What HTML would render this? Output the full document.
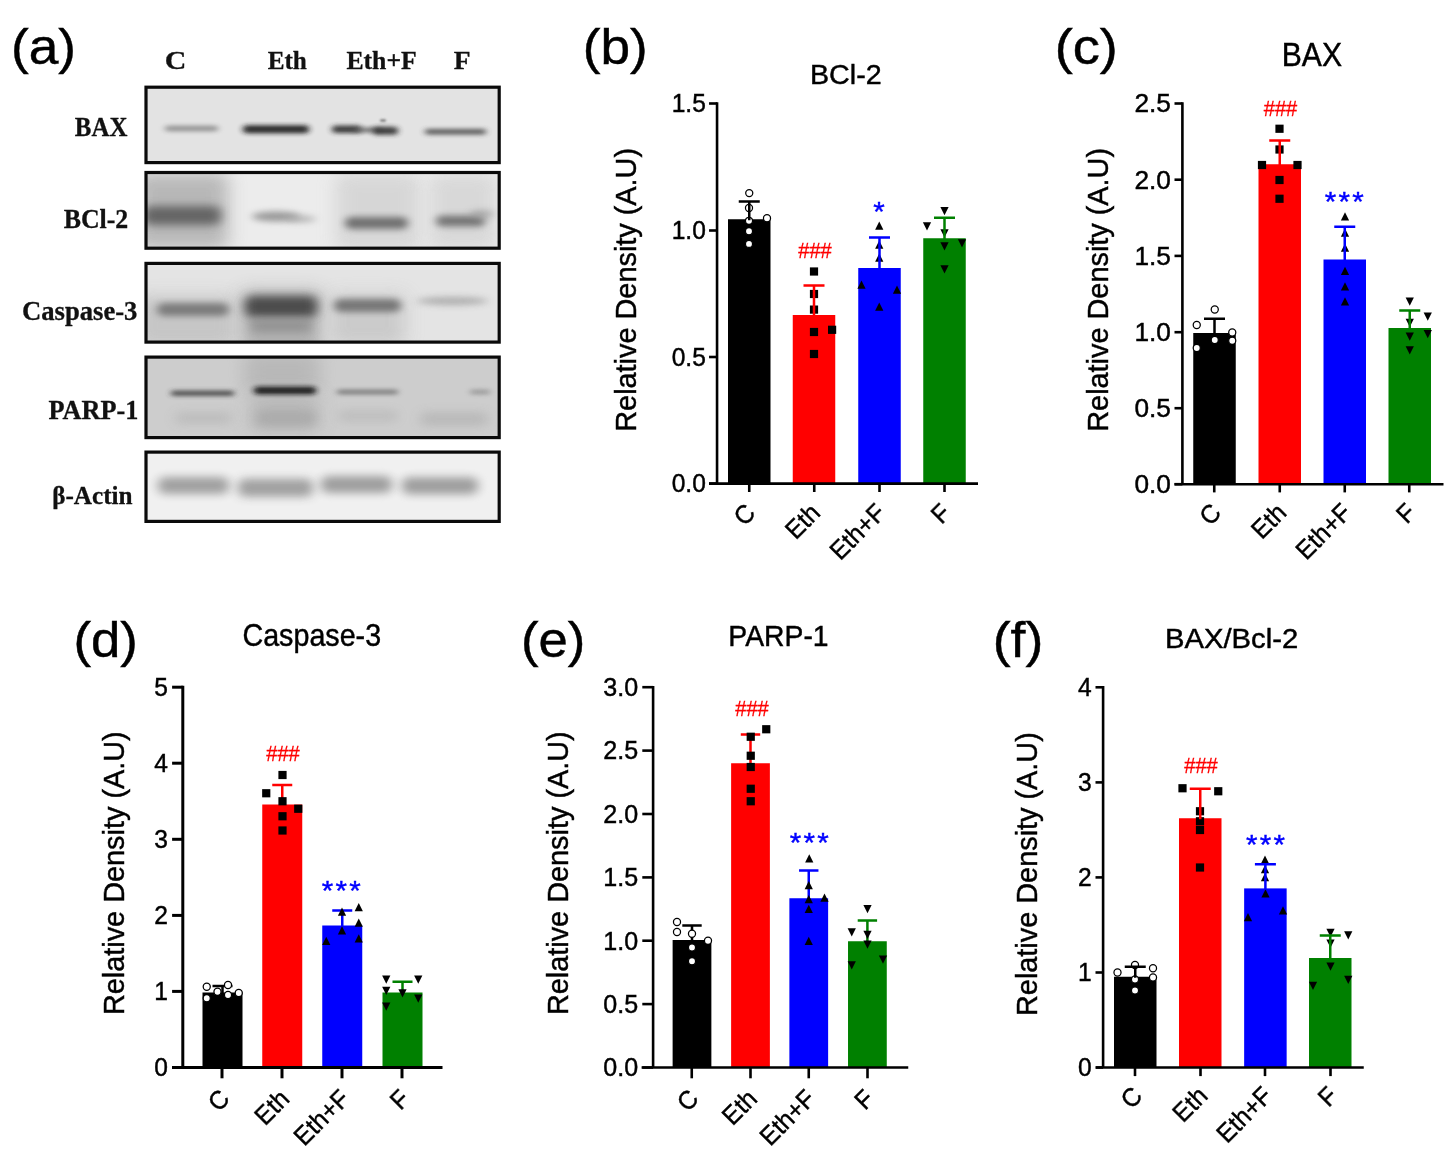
<!DOCTYPE html>
<html lang="en"><head><meta charset="utf-8"><title>Figure</title>
<style>
html,body{margin:0;padding:0;background:#fff;}
svg{display:block}
.ss{font-family:'Liberation Sans',Arial,sans-serif;}
.sf{font-family:'Liberation Serif','Times New Roman',serif;}
</style></head><body>
<svg width="1455" height="1169" viewBox="0 0 1455 1169">
<rect width="1455" height="1169" fill="#fff"/>
<defs>
<filter id="b1" filterUnits="userSpaceOnUse" x="100" y="60" width="440" height="490"><feGaussianBlur stdDeviation="1"/></filter>
<filter id="b3" filterUnits="userSpaceOnUse" x="100" y="60" width="440" height="490"><feGaussianBlur stdDeviation="3 1.9"/></filter>
<filter id="b2" filterUnits="userSpaceOnUse" x="100" y="60" width="440" height="490"><feGaussianBlur stdDeviation="2.6 1.3"/></filter>
<filter id="b4" filterUnits="userSpaceOnUse" x="100" y="60" width="440" height="490"><feGaussianBlur stdDeviation="4.5 3.2"/></filter>
<filter id="b5" filterUnits="userSpaceOnUse" x="100" y="60" width="440" height="490"><feGaussianBlur stdDeviation="5.5 4.5"/></filter>
<filter id="b7" filterUnits="userSpaceOnUse" x="100" y="60" width="440" height="490"><feGaussianBlur stdDeviation="9 8"/></filter>
</defs>
<clipPath id="cp0"><rect x="146" y="87.2" width="353.2" height="75.4"/></clipPath>
<rect x="146" y="87.2" width="353.2" height="75.4" fill="#e3e3e3"/>
<g clip-path="url(#cp0)">
<rect x="165" y="125.85" width="53" height="5.5" rx="2.75" fill="#8a8a8a" opacity="0.9" filter="url(#b3)"/>
<rect x="243" y="125.3" width="66" height="8" rx="4" fill="#1c1c1c" opacity="0.93" filter="url(#b3)"/>
<rect x="332" y="125.55" width="29" height="7.5" rx="3.75" fill="#2c2c2c" opacity="0.9" filter="url(#b3)"/>
<rect x="354" y="127.85" width="27" height="4.5" rx="2.25" fill="#5a5a5a" opacity="0.85" filter="url(#b3)"/>
<rect x="373" y="126.8" width="25" height="8" rx="4" fill="#2e2e2e" opacity="0.9" filter="url(#b3)"/>
<rect x="380" y="119.5" width="6" height="2" rx="1" fill="#444" opacity="0.8" filter="url(#b1)"/>
<rect x="425" y="129.05" width="61" height="5.5" rx="2.75" fill="#484848" opacity="0.88" filter="url(#b3)"/>
</g>
<rect x="146" y="87.2" width="353.2" height="75.4" fill="none" stroke="#0a0a0a" stroke-width="3.2"/>
<clipPath id="cp1"><rect x="146" y="172.5" width="353.2" height="75.7"/></clipPath>
<rect x="146" y="172.5" width="353.2" height="75.7" fill="#ececec"/>
<g clip-path="url(#cp1)">
<rect x="136" y="173" width="92" height="76" rx="7" fill="#b2b2b2" opacity="0.9" filter="url(#b7)"/>
<rect x="336" y="174" width="84" height="76" rx="7" fill="#d4d4d4" opacity="0.9" filter="url(#b7)"/>
<rect x="430" y="174" width="66" height="76" rx="7" fill="#d6d6d6" opacity="0.9" filter="url(#b7)"/>
<rect x="143" y="206" width="78" height="19" rx="7" fill="#5e5e5e" opacity="0.92" filter="url(#b5)"/>
<ellipse cx="276" cy="216.5" rx="24" ry="5" fill="#8e8e8e" opacity="0.9" filter="url(#b4)"/>
<ellipse cx="300.5" cy="219" rx="15.5" ry="3.25" fill="#a6a6a6" opacity="0.8" filter="url(#b4)"/>
<rect x="345" y="217" width="63" height="12" rx="6" fill="#6a6a6a" opacity="0.95" filter="url(#b4)"/>
<rect x="436" y="215.5" width="49" height="11" rx="5.5" fill="#707070" opacity="0.95" filter="url(#b4)"/>
<ellipse cx="482" cy="214" rx="12" ry="4" fill="#9a9a9a" opacity="0.7" filter="url(#b4)"/>
</g>
<rect x="146" y="172.5" width="353.2" height="75.7" fill="none" stroke="#0a0a0a" stroke-width="3.2"/>
<clipPath id="cp2"><rect x="146" y="263.4" width="353.2" height="78.7"/></clipPath>
<rect x="146" y="263.4" width="353.2" height="78.7" fill="#e4e4e4"/>
<g clip-path="url(#cp2)">
<rect x="136" y="296" width="100" height="52" rx="7" fill="#c2c2c2" opacity="0.9" filter="url(#b7)"/>
<rect x="241" y="290" width="81" height="64" rx="7" fill="#aeaeae" opacity="0.95" filter="url(#b7)"/>
<rect x="330" y="294" width="75" height="52" rx="7" fill="#c8c8c8" opacity="0.9" filter="url(#b7)"/>
<rect x="157" y="303" width="72" height="13" rx="6.5" fill="#787878" opacity="0.95" filter="url(#b4)"/>
<rect x="245" y="296" width="72" height="21" rx="7" fill="#484848" opacity="0.97" filter="url(#b5)"/>
<rect x="250" y="320" width="62" height="12" rx="6" fill="#8a8a8a" opacity="0.8" filter="url(#b5)"/>
<rect x="334" y="299" width="67" height="13" rx="6.5" fill="#727272" opacity="0.95" filter="url(#b4)"/>
<ellipse cx="452.5" cy="301" rx="35.5" ry="4" fill="#a8a8a8" opacity="0.9" filter="url(#b4)"/>
</g>
<rect x="146" y="263.4" width="353.2" height="78.7" fill="none" stroke="#0a0a0a" stroke-width="3.2"/>
<clipPath id="cp3"><rect x="146" y="357.1" width="353.2" height="80.5"/></clipPath>
<rect x="146" y="357.1" width="353.2" height="80.5" fill="#cdcdcd"/>
<g clip-path="url(#cp3)">
<rect x="244" y="352" width="76" height="40" rx="7" fill="#b4b4b4" opacity="0.8" filter="url(#b7)"/>
<rect x="250" y="392" width="68" height="40" rx="7" fill="#b6b6b6" opacity="0.8" filter="url(#b7)"/>
<rect x="171" y="390.7" width="63" height="5" rx="2.5" fill="#3a3a3a" opacity="0.9" filter="url(#b3)"/>
<rect x="254" y="386.75" width="62" height="7.5" rx="3.75" fill="#141414" opacity="0.95" filter="url(#b3)"/>
<rect x="337" y="389.8" width="61" height="4.4" rx="2.2" fill="#6e6e6e" opacity="0.88" filter="url(#b3)"/>
<rect x="470" y="389.8" width="20" height="4.4" rx="2.2" fill="#8e8e8e" opacity="0.85" filter="url(#b3)"/>
<rect x="175" y="412" width="57" height="12" rx="6" fill="#bcbcbc" opacity="0.9" filter="url(#b5)"/>
<rect x="256" y="410" width="60" height="16" rx="7" fill="#aaaaaa" opacity="0.9" filter="url(#b5)"/>
<rect x="338" y="410" width="60" height="12" rx="6" fill="#bebebe" opacity="0.9" filter="url(#b5)"/>
<rect x="420" y="412" width="68" height="14" rx="7" fill="#b8b8b8" opacity="0.9" filter="url(#b5)"/>
</g>
<rect x="146" y="357.1" width="353.2" height="80.5" fill="none" stroke="#0a0a0a" stroke-width="3.2"/>
<clipPath id="cp4"><rect x="146" y="452.1" width="353.2" height="69.3"/></clipPath>
<rect x="146" y="452.1" width="353.2" height="69.3" fill="#f0f0f0"/>
<g clip-path="url(#cp4)">
<rect x="158" y="477" width="71" height="17" rx="7" fill="#9c9c9c" opacity="0.95" filter="url(#b5)"/>
<rect x="238" y="478.7" width="75" height="18" rx="7" fill="#9c9c9c" opacity="0.95" filter="url(#b5)"/>
<rect x="321" y="476" width="71" height="17" rx="7" fill="#9a9a9a" opacity="0.95" filter="url(#b5)"/>
<rect x="402" y="477.2" width="76" height="17" rx="7" fill="#9a9a9a" opacity="0.95" filter="url(#b5)"/>
</g>
<rect x="146" y="452.1" width="353.2" height="69.3" fill="none" stroke="#0a0a0a" stroke-width="3.2"/>
<text class="ss" transform="translate(10.95 64.04) scale(1.07 1)" font-size="49.78" text-anchor="start" fill="#000" stroke="#000" stroke-width="0.45">(a)</text>
<text class="sf" transform="translate(164.71 69) scale(1.15 1)" font-size="26" text-anchor="start" fill="#111" stroke="#111" stroke-width="0.3" font-weight="bold">C</text>
<text class="sf" transform="translate(267.65 69.2) scale(0.97 1)" font-size="26" text-anchor="start" fill="#111" stroke="#111" stroke-width="0.3" font-weight="bold">Eth</text>
<text class="sf" transform="translate(346.39 69.2) scale(0.99 1)" font-size="26" text-anchor="start" fill="#111" stroke="#111" stroke-width="0.3" font-weight="bold">Eth+F</text>
<text class="sf" transform="translate(453.87 69.2) scale(1.06 1)" font-size="26" text-anchor="start" fill="#111" stroke="#111" stroke-width="0.3" font-weight="bold">F</text>
<text class="sf" transform="translate(74.85 136.1) scale(0.93 1)" font-size="26.8" text-anchor="start" fill="#111" stroke="#111" stroke-width="0.3" font-weight="bold">BAX</text>
<text class="sf" transform="translate(63.64 227.5) scale(0.98 1)" font-size="26.4" text-anchor="start" fill="#111" stroke="#111" stroke-width="0.3" font-weight="bold">BCl-2</text>
<text class="sf" transform="translate(21.94 320.1) scale(1.01 1)" font-size="26.4" text-anchor="start" fill="#111" stroke="#111" stroke-width="0.3" font-weight="bold">Caspase-3</text>
<text class="sf" transform="translate(48.44 419.4) scale(0.98 1)" font-size="26.8" text-anchor="start" fill="#111" stroke="#111" stroke-width="0.3" font-weight="bold">PARP-1</text>
<text class="sf" transform="translate(52.24 504.1) scale(0.99 1)" font-size="25.4" text-anchor="start" fill="#111" stroke="#111" stroke-width="0.3" font-weight="bold">β-Actin</text>
<rect x="728" y="219.25" width="42.5" height="264.35" fill="#000000"/>
<rect x="792.75" y="315" width="42.5" height="168.6" fill="#ff0000"/>
<rect x="858.25" y="268" width="42.5" height="215.6" fill="#0000ff"/>
<rect x="923.25" y="238.25" width="42.5" height="245.35" fill="#008000"/>
<circle cx="749.25" cy="193.1" r="3.55" fill="#fff" stroke="#000" stroke-width="1.25"/>
<circle cx="749" cy="208" r="3.55" fill="#fff" stroke="#000" stroke-width="1.25"/>
<circle cx="767" cy="218.2" r="3.55" fill="#fff" stroke="#000" stroke-width="1.25"/>
<circle cx="749" cy="220.8" r="3.55" fill="#fff" stroke="#000" stroke-width="1.25"/>
<circle cx="749" cy="231.2" r="3.55" fill="#fff" stroke="#000" stroke-width="1.25"/>
<circle cx="749" cy="243.9" r="3.55" fill="#fff" stroke="#000" stroke-width="1.25"/>
<rect x="809.9" y="267.4" width="8.2" height="8.2" fill="#000"/>
<rect x="809.9" y="289.9" width="8.2" height="8.2" fill="#000"/>
<rect x="809.9" y="305.5" width="8.2" height="8.2" fill="#000"/>
<rect x="828" y="325.7" width="8.2" height="8.2" fill="#000"/>
<rect x="809.9" y="327.9" width="8.2" height="8.2" fill="#000"/>
<rect x="809.9" y="349.9" width="8.2" height="8.2" fill="#000"/>
<path d="M875.15 229.7L883.35 229.7L879.25 221.4Z" fill="#000"/>
<path d="M875.15 248.7L883.35 248.7L879.25 240.4Z" fill="#000"/>
<path d="M875.15 261.7L883.35 261.7L879.25 253.4Z" fill="#000"/>
<path d="M857.4 288.7L865.6 288.7L861.5 280.4Z" fill="#000"/>
<path d="M892.9 293.7L901.1 293.7L897 285.4Z" fill="#000"/>
<path d="M875.15 310.7L883.35 310.7L879.25 302.4Z" fill="#000"/>
<path d="M940.4 207L948.6 207L944.5 215.3Z" fill="#000"/>
<path d="M922.9 222.3L931.1 222.3L927 230.6Z" fill="#000"/>
<path d="M940.4 229.3L948.6 229.3L944.5 237.6Z" fill="#000"/>
<path d="M940.4 242.3L948.6 242.3L944.5 250.6Z" fill="#000"/>
<path d="M957.9 239.3L966.1 239.3L962 247.6Z" fill="#000"/>
<path d="M940.4 265.3L948.6 265.3L944.5 273.6Z" fill="#000"/>
<path d="M749.25 220.25V201.4M738.75 201.4H759.75" stroke="#000000" stroke-width="2.5" fill="none"/>
<path d="M814 316V285.6M803.5 285.6H824.5" stroke="#ff0000" stroke-width="2.5" fill="none"/>
<path d="M879.5 269V237.4M869 237.4H890" stroke="#0000ff" stroke-width="2.5" fill="none"/>
<path d="M944.5 239.25V217.8M934 217.8H955" stroke="#008000" stroke-width="2.5" fill="none"/>
<path d="M717.05 102.2V483.6M709 483.6H978" stroke="#000" stroke-width="2.6" fill="none"/>
<path d="M709.05 103.5H717.05" stroke="#000" stroke-width="2.6"/>
<text class="ss" transform="translate(705.85 112.3) scale(0.96 1)" font-size="25.6" text-anchor="end" fill="#000" stroke="#000" stroke-width="0.45">1.5</text>
<path d="M709.05 230.5H717.05" stroke="#000" stroke-width="2.6"/>
<text class="ss" transform="translate(705.85 239.3) scale(0.96 1)" font-size="25.6" text-anchor="end" fill="#000" stroke="#000" stroke-width="0.45">1.0</text>
<path d="M709.05 357H717.05" stroke="#000" stroke-width="2.6"/>
<text class="ss" transform="translate(705.85 365.8) scale(0.96 1)" font-size="25.6" text-anchor="end" fill="#000" stroke="#000" stroke-width="0.45">0.5</text>
<path d="M709.05 483.6H717.05" stroke="#000" stroke-width="2.6"/>
<text class="ss" transform="translate(705.85 492.4) scale(0.96 1)" font-size="25.6" text-anchor="end" fill="#000" stroke="#000" stroke-width="0.45">0.0</text>
<path d="M749.25 483.6V492" stroke="#000" stroke-width="2.6"/>
<path d="M814.25 483.6V492" stroke="#000" stroke-width="2.6"/>
<path d="M879.5 483.6V492" stroke="#000" stroke-width="2.6"/>
<path d="M944.5 483.6V492" stroke="#000" stroke-width="2.6"/>
<text class="ss" transform="translate(756.75 514.4) rotate(-45) scale(0.96 1)" font-size="25.6" text-anchor="end" fill="#000" stroke="#000" stroke-width="0.45">C</text>
<text class="ss" transform="translate(821.75 514.4) rotate(-45) scale(0.96 1)" font-size="25.6" text-anchor="end" fill="#000" stroke="#000" stroke-width="0.45">Eth</text>
<text class="ss" transform="translate(887 514.4) rotate(-45) scale(0.96 1)" font-size="25.6" text-anchor="end" fill="#000" stroke="#000" stroke-width="0.45">Eth+F</text>
<text class="ss" transform="translate(952 514.4) rotate(-45) scale(0.96 1)" font-size="25.6" text-anchor="end" fill="#000" stroke="#000" stroke-width="0.45">F</text>
<text class="ss" transform="translate(815 258) scale(0.94 1)" font-size="21.4" text-anchor="middle" fill="#ff0000" stroke="#ff0000" stroke-width="0.3">###</text>
<text class="ss" transform="translate(879.1 221.3) scale(1.1 1)" font-size="26.8" text-anchor="middle" fill="#0000ff" stroke="#0000ff" stroke-width="0.4">*</text>
<text class="ss" transform="translate(810.01 83.6) scale(1.01 1)" font-size="28.36" text-anchor="start" fill="#000" stroke="#000" stroke-width="0.45">BCl-2</text>
<text class="ss" transform="translate(636.4 289.85) rotate(-90) scale(0.95 1)" font-size="30.4" text-anchor="middle" fill="#000" stroke="#000" stroke-width="0.45">Relative Density (A.U)</text>
<text class="ss" transform="translate(582.7 64.04) scale(1.06 1)" font-size="50.19" text-anchor="start" fill="#000" stroke="#000" stroke-width="0.45">(b)</text>
<rect x="1193.25" y="333" width="42.5" height="151.2" fill="#000000"/>
<rect x="1258.5" y="164.25" width="42.5" height="319.95" fill="#ff0000"/>
<rect x="1323.5" y="259.5" width="42.5" height="224.7" fill="#0000ff"/>
<rect x="1388.5" y="328" width="42.5" height="156.2" fill="#008000"/>
<circle cx="1214.75" cy="309.5" r="3.55" fill="#fff" stroke="#000" stroke-width="1.25"/>
<circle cx="1196.75" cy="325" r="3.55" fill="#fff" stroke="#000" stroke-width="1.25"/>
<circle cx="1232.25" cy="332.5" r="3.55" fill="#fff" stroke="#000" stroke-width="1.25"/>
<circle cx="1214.75" cy="340" r="3.55" fill="#fff" stroke="#000" stroke-width="1.25"/>
<circle cx="1232.25" cy="340.75" r="3.55" fill="#fff" stroke="#000" stroke-width="1.25"/>
<circle cx="1196.75" cy="348" r="3.55" fill="#fff" stroke="#000" stroke-width="1.25"/>
<rect x="1275.4" y="124.65" width="8.2" height="8.2" fill="#000"/>
<rect x="1275.4" y="145.4" width="8.2" height="8.2" fill="#000"/>
<rect x="1257.9" y="160.9" width="8.2" height="8.2" fill="#000"/>
<rect x="1293.4" y="160.9" width="8.2" height="8.2" fill="#000"/>
<rect x="1275.4" y="175.9" width="8.2" height="8.2" fill="#000"/>
<rect x="1275.4" y="194.65" width="8.2" height="8.2" fill="#000"/>
<path d="M1340.9 220.5L1349.1 220.5L1345 212.2Z" fill="#000"/>
<path d="M1340.9 236.7L1349.1 236.7L1345 228.4Z" fill="#000"/>
<path d="M1340.9 251.7L1349.1 251.7L1345 243.4Z" fill="#000"/>
<path d="M1340.9 275L1349.1 275L1345 266.7Z" fill="#000"/>
<path d="M1340.9 290.5L1349.1 290.5L1345 282.2Z" fill="#000"/>
<path d="M1340.9 305.5L1349.1 305.5L1345 297.2Z" fill="#000"/>
<path d="M1405.65 297.55L1413.85 297.55L1409.75 305.85Z" fill="#000"/>
<path d="M1423.65 312.55L1431.85 312.55L1427.75 320.85Z" fill="#000"/>
<path d="M1405.65 318.8L1413.85 318.8L1409.75 327.1Z" fill="#000"/>
<path d="M1423.65 330.05L1431.85 330.05L1427.75 338.35Z" fill="#000"/>
<path d="M1405.65 332.55L1413.85 332.55L1409.75 340.85Z" fill="#000"/>
<path d="M1405.65 346.3L1413.85 346.3L1409.75 354.6Z" fill="#000"/>
<path d="M1214.5 334V318.75M1204 318.75H1225" stroke="#000000" stroke-width="2.5" fill="none"/>
<path d="M1279.75 165.25V140.5M1269.25 140.5H1290.25" stroke="#ff0000" stroke-width="2.5" fill="none"/>
<path d="M1344.75 260.5V226.75M1334.25 226.75H1355.25" stroke="#0000ff" stroke-width="2.5" fill="none"/>
<path d="M1409.75 329V310.5M1399.25 310.5H1420.25" stroke="#008000" stroke-width="2.5" fill="none"/>
<path d="M1182.4 102.2V484.2M1174.5 484.2H1443.5" stroke="#000" stroke-width="2.6" fill="none"/>
<path d="M1174.5 103.5H1182.4" stroke="#000" stroke-width="2.6"/>
<text class="ss" transform="translate(1170.9 112.3) scale(1.01 1)" font-size="26" text-anchor="end" fill="#000" stroke="#000" stroke-width="0.45">2.5</text>
<path d="M1174.5 179.7H1182.4" stroke="#000" stroke-width="2.6"/>
<text class="ss" transform="translate(1170.9 188.5) scale(1.01 1)" font-size="26" text-anchor="end" fill="#000" stroke="#000" stroke-width="0.45">2.0</text>
<path d="M1174.5 255.9H1182.4" stroke="#000" stroke-width="2.6"/>
<text class="ss" transform="translate(1170.9 264.7) scale(1.01 1)" font-size="26" text-anchor="end" fill="#000" stroke="#000" stroke-width="0.45">1.5</text>
<path d="M1174.5 332.2H1182.4" stroke="#000" stroke-width="2.6"/>
<text class="ss" transform="translate(1170.9 341) scale(1.01 1)" font-size="26" text-anchor="end" fill="#000" stroke="#000" stroke-width="0.45">1.0</text>
<path d="M1174.5 408.2H1182.4" stroke="#000" stroke-width="2.6"/>
<text class="ss" transform="translate(1170.9 417) scale(1.01 1)" font-size="26" text-anchor="end" fill="#000" stroke="#000" stroke-width="0.45">0.5</text>
<path d="M1174.5 484.2H1182.4" stroke="#000" stroke-width="2.6"/>
<text class="ss" transform="translate(1170.9 493) scale(1.01 1)" font-size="26" text-anchor="end" fill="#000" stroke="#000" stroke-width="0.45">0.0</text>
<path d="M1214.25 484.2V492.4" stroke="#000" stroke-width="2.6"/>
<path d="M1279.75 484.2V492.4" stroke="#000" stroke-width="2.6"/>
<path d="M1344.75 484.2V492.4" stroke="#000" stroke-width="2.6"/>
<path d="M1409.25 484.2V492.4" stroke="#000" stroke-width="2.6"/>
<text class="ss" transform="translate(1222.45 514.2) rotate(-45) scale(0.96 1)" font-size="25.6" text-anchor="end" fill="#000" stroke="#000" stroke-width="0.45">C</text>
<text class="ss" transform="translate(1287.95 514.2) rotate(-45) scale(0.96 1)" font-size="25.6" text-anchor="end" fill="#000" stroke="#000" stroke-width="0.45">Eth</text>
<text class="ss" transform="translate(1352.95 514.2) rotate(-45) scale(0.96 1)" font-size="25.6" text-anchor="end" fill="#000" stroke="#000" stroke-width="0.45">Eth+F</text>
<text class="ss" transform="translate(1417.45 514.2) rotate(-45) scale(0.96 1)" font-size="25.6" text-anchor="end" fill="#000" stroke="#000" stroke-width="0.45">F</text>
<text class="ss" transform="translate(1280.5 116.35) scale(0.94 1)" font-size="21.4" text-anchor="middle" fill="#ff0000" stroke="#ff0000" stroke-width="0.3">###</text>
<text class="ss" transform="translate(1330.45 211.3) scale(1.1 1)" font-size="26.8" text-anchor="middle" fill="#0000ff" stroke="#0000ff" stroke-width="0.4">*</text>
<text class="ss" transform="translate(1344.2 211.3) scale(1.1 1)" font-size="26.8" text-anchor="middle" fill="#0000ff" stroke="#0000ff" stroke-width="0.4">*</text>
<text class="ss" transform="translate(1357.95 211.3) scale(1.1 1)" font-size="26.8" text-anchor="middle" fill="#0000ff" stroke="#0000ff" stroke-width="0.4">*</text>
<text class="ss" transform="translate(1281.74 65.85) scale(0.93 1)" font-size="32.39" text-anchor="start" fill="#000" stroke="#000" stroke-width="0.45">BAX</text>
<text class="ss" transform="translate(1108.2 289.85) rotate(-90) scale(0.95 1)" font-size="30.4" text-anchor="middle" fill="#000" stroke="#000" stroke-width="0.45">Relative Density (A.U)</text>
<text class="ss" transform="translate(1054.64 64.04) scale(1.08 1)" font-size="50.19" text-anchor="start" fill="#000" stroke="#000" stroke-width="0.45">(c)</text>
<rect x="202.5" y="992.5" width="40" height="75" fill="#000000"/>
<rect x="262.25" y="804.5" width="40" height="263" fill="#ff0000"/>
<rect x="322.25" y="925.5" width="40" height="142" fill="#0000ff"/>
<rect x="382.5" y="992.5" width="40" height="75" fill="#008000"/>
<path d="M222.5 993.5V986M212.5 986H232.5" stroke="#000000" stroke-width="2.5" fill="none"/>
<path d="M282.25 805.5V785M272.25 785H292.25" stroke="#ff0000" stroke-width="2.5" fill="none"/>
<path d="M342.25 926.5V910.5M332.25 910.5H352.25" stroke="#0000ff" stroke-width="2.5" fill="none"/>
<path d="M402.5 993.5V981.75M392.5 981.75H412.5" stroke="#008000" stroke-width="2.5" fill="none"/>
<circle cx="206.75" cy="986.75" r="3.55" fill="#fff" stroke="#000" stroke-width="1.25"/>
<circle cx="228" cy="985" r="3.55" fill="#fff" stroke="#000" stroke-width="1.25"/>
<circle cx="217.5" cy="991.75" r="3.55" fill="#fff" stroke="#000" stroke-width="1.25"/>
<circle cx="238.75" cy="993" r="3.55" fill="#fff" stroke="#000" stroke-width="1.25"/>
<circle cx="228" cy="995" r="3.55" fill="#fff" stroke="#000" stroke-width="1.25"/>
<circle cx="206.75" cy="998.25" r="3.55" fill="#fff" stroke="#000" stroke-width="1.25"/>
<rect x="278.4" y="770.9" width="8.2" height="8.2" fill="#000"/>
<rect x="262.15" y="789.15" width="8.2" height="8.2" fill="#000"/>
<rect x="278.4" y="797.15" width="8.2" height="8.2" fill="#000"/>
<rect x="294.15" y="804.65" width="8.2" height="8.2" fill="#000"/>
<rect x="278.4" y="812.15" width="8.2" height="8.2" fill="#000"/>
<rect x="278.4" y="826.4" width="8.2" height="8.2" fill="#000"/>
<path d="M354.65 911.2L362.85 911.2L358.75 902.9Z" fill="#000"/>
<path d="M337.9 915.7L346.1 915.7L342 907.4Z" fill="#000"/>
<path d="M354.65 926.7L362.85 926.7L358.75 918.4Z" fill="#000"/>
<path d="M337.9 934.45L346.1 934.45L342 926.15Z" fill="#000"/>
<path d="M322.15 944.95L330.35 944.95L326.25 936.65Z" fill="#000"/>
<path d="M354.65 942.45L362.85 942.45L358.75 934.15Z" fill="#000"/>
<path d="M382.15 975.55L390.35 975.55L386.25 983.85Z" fill="#000"/>
<path d="M414.15 975.55L422.35 975.55L418.25 983.85Z" fill="#000"/>
<path d="M382.15 986.8L390.35 986.8L386.25 995.1Z" fill="#000"/>
<path d="M398.4 989.3L406.6 989.3L402.5 997.6Z" fill="#000"/>
<path d="M414.15 994.55L422.35 994.55L418.25 1002.85Z" fill="#000"/>
<path d="M382.15 1002.55L390.35 1002.55L386.25 1010.85Z" fill="#000"/>
<path d="M182.8 685.7V1067.5M172 1067.5H442.5" stroke="#000" stroke-width="3.0" fill="none"/>
<path d="M172.1 687.2H182.8" stroke="#000" stroke-width="3.0"/>
<text class="ss" transform="translate(168 696) scale(0.96 1)" font-size="25.6" text-anchor="end" fill="#000" stroke="#000" stroke-width="0.45">5</text>
<path d="M172.1 763.2H182.8" stroke="#000" stroke-width="3.0"/>
<text class="ss" transform="translate(168 772) scale(0.96 1)" font-size="25.6" text-anchor="end" fill="#000" stroke="#000" stroke-width="0.45">4</text>
<path d="M172.1 839.3H182.8" stroke="#000" stroke-width="3.0"/>
<text class="ss" transform="translate(168 848.1) scale(0.96 1)" font-size="25.6" text-anchor="end" fill="#000" stroke="#000" stroke-width="0.45">3</text>
<path d="M172.1 915.4H182.8" stroke="#000" stroke-width="3.0"/>
<text class="ss" transform="translate(168 924.2) scale(0.96 1)" font-size="25.6" text-anchor="end" fill="#000" stroke="#000" stroke-width="0.45">2</text>
<path d="M172.1 991.4H182.8" stroke="#000" stroke-width="3.0"/>
<text class="ss" transform="translate(168 1000.2) scale(0.96 1)" font-size="25.6" text-anchor="end" fill="#000" stroke="#000" stroke-width="0.45">1</text>
<path d="M172.1 1067.5H182.8" stroke="#000" stroke-width="3.0"/>
<text class="ss" transform="translate(168 1076.3) scale(0.96 1)" font-size="25.6" text-anchor="end" fill="#000" stroke="#000" stroke-width="0.45">0</text>
<path d="M222 1067.5V1078.3" stroke="#000" stroke-width="3.0"/>
<path d="M282 1067.5V1078.3" stroke="#000" stroke-width="3.0"/>
<path d="M342 1067.5V1078.3" stroke="#000" stroke-width="3.0"/>
<path d="M402 1067.5V1078.3" stroke="#000" stroke-width="3.0"/>
<text class="ss" transform="translate(231 1100.3) rotate(-45) scale(0.96 1)" font-size="25.6" text-anchor="end" fill="#000" stroke="#000" stroke-width="0.45">C</text>
<text class="ss" transform="translate(291 1100.3) rotate(-45) scale(0.96 1)" font-size="25.6" text-anchor="end" fill="#000" stroke="#000" stroke-width="0.45">Eth</text>
<text class="ss" transform="translate(351 1100.3) rotate(-45) scale(0.96 1)" font-size="25.6" text-anchor="end" fill="#000" stroke="#000" stroke-width="0.45">Eth+F</text>
<text class="ss" transform="translate(411 1100.3) rotate(-45) scale(0.96 1)" font-size="25.6" text-anchor="end" fill="#000" stroke="#000" stroke-width="0.45">F</text>
<text class="ss" transform="translate(283 760.9) scale(0.94 1)" font-size="21.4" text-anchor="middle" fill="#ff0000" stroke="#ff0000" stroke-width="0.3">###</text>
<text class="ss" transform="translate(327.45 900.3) scale(1.1 1)" font-size="26.8" text-anchor="middle" fill="#0000ff" stroke="#0000ff" stroke-width="0.4">*</text>
<text class="ss" transform="translate(341.2 900.3) scale(1.1 1)" font-size="26.8" text-anchor="middle" fill="#0000ff" stroke="#0000ff" stroke-width="0.4">*</text>
<text class="ss" transform="translate(354.95 900.3) scale(1.1 1)" font-size="26.8" text-anchor="middle" fill="#0000ff" stroke="#0000ff" stroke-width="0.4">*</text>
<text class="ss" transform="translate(242.47 645.8) scale(0.9 1)" font-size="31.86" text-anchor="start" fill="#000" stroke="#000" stroke-width="0.45">Caspase-3</text>
<text class="ss" transform="translate(124 873.2) rotate(-90) scale(0.95 1)" font-size="30.4" text-anchor="middle" fill="#000" stroke="#000" stroke-width="0.45">Relative Density (A.U)</text>
<text class="ss" transform="translate(73.47 657.34) scale(1.05 1)" font-size="50.19" text-anchor="start" fill="#000" stroke="#000" stroke-width="0.45">(d)</text>
<rect x="672.62" y="940" width="38.75" height="127.5" fill="#000000"/>
<rect x="731.12" y="763.25" width="38.75" height="304.25" fill="#ff0000"/>
<rect x="789.38" y="898.25" width="38.75" height="169.25" fill="#0000ff"/>
<rect x="848.02" y="941.25" width="38.75" height="126.25" fill="#008000"/>
<path d="M692 941V925.5M682.3 925.5H701.7" stroke="#000000" stroke-width="2.5" fill="none"/>
<path d="M750.5 764.25V734.5M740.8 734.5H760.2" stroke="#ff0000" stroke-width="2.5" fill="none"/>
<path d="M808.75 899.25V870.5M799.05 870.5H818.45" stroke="#0000ff" stroke-width="2.5" fill="none"/>
<path d="M867.4 942.25V920.5M857.7 920.5H877.1" stroke="#008000" stroke-width="2.5" fill="none"/>
<circle cx="677" cy="922" r="3.55" fill="#fff" stroke="#000" stroke-width="1.25"/>
<circle cx="677" cy="932" r="3.55" fill="#fff" stroke="#000" stroke-width="1.25"/>
<circle cx="692" cy="933.75" r="3.55" fill="#fff" stroke="#000" stroke-width="1.25"/>
<circle cx="708" cy="940.75" r="3.55" fill="#fff" stroke="#000" stroke-width="1.25"/>
<circle cx="692" cy="947.5" r="3.55" fill="#fff" stroke="#000" stroke-width="1.25"/>
<circle cx="692" cy="961.25" r="3.55" fill="#fff" stroke="#000" stroke-width="1.25"/>
<rect x="762.15" y="725.15" width="8.2" height="8.2" fill="#000"/>
<rect x="746.65" y="732.65" width="8.2" height="8.2" fill="#000"/>
<rect x="746.65" y="751.65" width="8.2" height="8.2" fill="#000"/>
<rect x="746.65" y="762.9" width="8.2" height="8.2" fill="#000"/>
<rect x="746.65" y="784.65" width="8.2" height="8.2" fill="#000"/>
<rect x="746.65" y="797.15" width="8.2" height="8.2" fill="#000"/>
<path d="M805.15 862.45L813.35 862.45L809.25 854.15Z" fill="#000"/>
<path d="M804.65 889.2L812.85 889.2L808.75 880.9Z" fill="#000"/>
<path d="M820.4 901.7L828.6 901.7L824.5 893.4Z" fill="#000"/>
<path d="M804.65 903.2L812.85 903.2L808.75 894.9Z" fill="#000"/>
<path d="M804.65 912.95L812.85 912.95L808.75 904.65Z" fill="#000"/>
<path d="M804.65 944.95L812.85 944.95L808.75 936.65Z" fill="#000"/>
<path d="M863.4 905.05L871.6 905.05L867.5 913.35Z" fill="#000"/>
<path d="M847.65 928.3L855.85 928.3L851.75 936.6Z" fill="#000"/>
<path d="M863.4 930.8L871.6 930.8L867.5 939.1Z" fill="#000"/>
<path d="M863.4 940.55L871.6 940.55L867.5 948.85Z" fill="#000"/>
<path d="M878.9 955.55L887.1 955.55L883 963.85Z" fill="#000"/>
<path d="M847.65 961.3L855.85 961.3L851.75 969.6Z" fill="#000"/>
<path d="M653.1 685.9V1067.5M641.6 1067.5H908.25" stroke="#000" stroke-width="2.6" fill="none"/>
<path d="M642.3 687.2H653.1" stroke="#000" stroke-width="2.6"/>
<text class="ss" transform="translate(638.1 696) scale(0.98 1)" font-size="25.6" text-anchor="end" fill="#000" stroke="#000" stroke-width="0.45">3.0</text>
<path d="M642.3 750.6H653.1" stroke="#000" stroke-width="2.6"/>
<text class="ss" transform="translate(638.1 759.4) scale(0.98 1)" font-size="25.6" text-anchor="end" fill="#000" stroke="#000" stroke-width="0.45">2.5</text>
<path d="M642.3 814H653.1" stroke="#000" stroke-width="2.6"/>
<text class="ss" transform="translate(638.1 822.8) scale(0.98 1)" font-size="25.6" text-anchor="end" fill="#000" stroke="#000" stroke-width="0.45">2.0</text>
<path d="M642.3 877.4H653.1" stroke="#000" stroke-width="2.6"/>
<text class="ss" transform="translate(638.1 886.2) scale(0.98 1)" font-size="25.6" text-anchor="end" fill="#000" stroke="#000" stroke-width="0.45">1.5</text>
<path d="M642.3 940.7H653.1" stroke="#000" stroke-width="2.6"/>
<text class="ss" transform="translate(638.1 949.5) scale(0.98 1)" font-size="25.6" text-anchor="end" fill="#000" stroke="#000" stroke-width="0.45">1.0</text>
<path d="M642.3 1004.1H653.1" stroke="#000" stroke-width="2.6"/>
<text class="ss" transform="translate(638.1 1012.9) scale(0.98 1)" font-size="25.6" text-anchor="end" fill="#000" stroke="#000" stroke-width="0.45">0.5</text>
<path d="M642.3 1067.5H653.1" stroke="#000" stroke-width="2.6"/>
<text class="ss" transform="translate(638.1 1076.3) scale(0.98 1)" font-size="25.6" text-anchor="end" fill="#000" stroke="#000" stroke-width="0.45">0.0</text>
<path d="M691.75 1067.5V1078.3" stroke="#000" stroke-width="2.6"/>
<path d="M750.5 1067.5V1078.3" stroke="#000" stroke-width="2.6"/>
<path d="M808.75 1067.5V1078.3" stroke="#000" stroke-width="2.6"/>
<path d="M867.5 1067.5V1078.3" stroke="#000" stroke-width="2.6"/>
<text class="ss" transform="translate(699.95 1100.3) rotate(-45) scale(0.96 1)" font-size="25.6" text-anchor="end" fill="#000" stroke="#000" stroke-width="0.45">C</text>
<text class="ss" transform="translate(758.7 1100.3) rotate(-45) scale(0.96 1)" font-size="25.6" text-anchor="end" fill="#000" stroke="#000" stroke-width="0.45">Eth</text>
<text class="ss" transform="translate(816.95 1100.3) rotate(-45) scale(0.96 1)" font-size="25.6" text-anchor="end" fill="#000" stroke="#000" stroke-width="0.45">Eth+F</text>
<text class="ss" transform="translate(875.7 1100.3) rotate(-45) scale(0.96 1)" font-size="25.6" text-anchor="end" fill="#000" stroke="#000" stroke-width="0.45">F</text>
<text class="ss" transform="translate(752 715.9) scale(0.94 1)" font-size="21.4" text-anchor="middle" fill="#ff0000" stroke="#ff0000" stroke-width="0.3">###</text>
<text class="ss" transform="translate(795.45 852.3) scale(1.1 1)" font-size="26.8" text-anchor="middle" fill="#0000ff" stroke="#0000ff" stroke-width="0.4">*</text>
<text class="ss" transform="translate(809.2 852.3) scale(1.1 1)" font-size="26.8" text-anchor="middle" fill="#0000ff" stroke="#0000ff" stroke-width="0.4">*</text>
<text class="ss" transform="translate(822.95 852.3) scale(1.1 1)" font-size="26.8" text-anchor="middle" fill="#0000ff" stroke="#0000ff" stroke-width="0.4">*</text>
<text class="ss" transform="translate(728.37 645.6) scale(0.94 1)" font-size="30.14" text-anchor="start" fill="#000" stroke="#000" stroke-width="0.45">PARP-1</text>
<text class="ss" transform="translate(567.9 873.2) rotate(-90) scale(0.95 1)" font-size="30.4" text-anchor="middle" fill="#000" stroke="#000" stroke-width="0.45">Relative Density (A.U)</text>
<text class="ss" transform="translate(520.97 657.34) scale(1.05 1)" font-size="50.19" text-anchor="start" fill="#000" stroke="#000" stroke-width="0.45">(e)</text>
<rect x="1114" y="976.75" width="42.5" height="90.75" fill="#000000"/>
<rect x="1179" y="818.25" width="42.5" height="249.25" fill="#ff0000"/>
<rect x="1244.15" y="888.4" width="42.5" height="179.1" fill="#0000ff"/>
<rect x="1309" y="958" width="42.5" height="109.5" fill="#008000"/>
<circle cx="1117.5" cy="972.5" r="3.55" fill="#fff" stroke="#000" stroke-width="1.25"/>
<circle cx="1135" cy="965" r="3.55" fill="#fff" stroke="#000" stroke-width="1.25"/>
<circle cx="1153" cy="968.25" r="3.55" fill="#fff" stroke="#000" stroke-width="1.25"/>
<circle cx="1153" cy="977.5" r="3.55" fill="#fff" stroke="#000" stroke-width="1.25"/>
<circle cx="1135" cy="979.5" r="3.55" fill="#fff" stroke="#000" stroke-width="1.25"/>
<circle cx="1135" cy="990.5" r="3.55" fill="#fff" stroke="#000" stroke-width="1.25"/>
<rect x="1178.4" y="784.15" width="8.2" height="8.2" fill="#000"/>
<rect x="1214.15" y="787.15" width="8.2" height="8.2" fill="#000"/>
<rect x="1195.9" y="807.15" width="8.2" height="8.2" fill="#000"/>
<rect x="1195.9" y="817.15" width="8.2" height="8.2" fill="#000"/>
<rect x="1195.9" y="825.9" width="8.2" height="8.2" fill="#000"/>
<rect x="1195.9" y="863.4" width="8.2" height="8.2" fill="#000"/>
<path d="M1260.9 863.7L1269.1 863.7L1265 855.4Z" fill="#000"/>
<path d="M1260.9 873.2L1269.1 873.2L1265 864.9Z" fill="#000"/>
<path d="M1260.9 881.2L1269.1 881.2L1265 872.9Z" fill="#000"/>
<path d="M1261.4 897.45L1269.6 897.45L1265.5 889.15Z" fill="#000"/>
<path d="M1278.9 914.45L1287.1 914.45L1283 906.15Z" fill="#000"/>
<path d="M1243.9 921.2L1252.1 921.2L1248 912.9Z" fill="#000"/>
<path d="M1326.4 928.8L1334.6 928.8L1330.5 937.1Z" fill="#000"/>
<path d="M1344.15 931.3L1352.35 931.3L1348.25 939.6Z" fill="#000"/>
<path d="M1326.4 939.55L1334.6 939.55L1330.5 947.85Z" fill="#000"/>
<path d="M1326.4 962.55L1334.6 962.55L1330.5 970.85Z" fill="#000"/>
<path d="M1344.15 975.8L1352.35 975.8L1348.25 984.1Z" fill="#000"/>
<path d="M1308.9 981.8L1317.1 981.8L1313 990.1Z" fill="#000"/>
<path d="M1135.25 977.75V966.75M1124.75 966.75H1145.75" stroke="#000000" stroke-width="2.5" fill="none"/>
<path d="M1200.25 819.25V788.75M1189.75 788.75H1210.75" stroke="#ff0000" stroke-width="2.5" fill="none"/>
<path d="M1265.4 889.4V864.25M1254.9 864.25H1275.9" stroke="#0000ff" stroke-width="2.5" fill="none"/>
<path d="M1330.25 959V935.5M1319.75 935.5H1340.75" stroke="#008000" stroke-width="2.5" fill="none"/>
<path d="M1103.1 686V1067.5M1095.9 1067.5H1363.75" stroke="#000" stroke-width="2.6" fill="none"/>
<path d="M1095.5 687.3H1103.1" stroke="#000" stroke-width="2.6"/>
<text class="ss" transform="translate(1091.7 696.1) scale(0.96 1)" font-size="25.6" text-anchor="end" fill="#000" stroke="#000" stroke-width="0.45">4</text>
<path d="M1095.5 782.4H1103.1" stroke="#000" stroke-width="2.6"/>
<text class="ss" transform="translate(1091.7 791.2) scale(0.96 1)" font-size="25.6" text-anchor="end" fill="#000" stroke="#000" stroke-width="0.45">3</text>
<path d="M1095.5 877.4H1103.1" stroke="#000" stroke-width="2.6"/>
<text class="ss" transform="translate(1091.7 886.2) scale(0.96 1)" font-size="25.6" text-anchor="end" fill="#000" stroke="#000" stroke-width="0.45">2</text>
<path d="M1095.5 972.5H1103.1" stroke="#000" stroke-width="2.6"/>
<text class="ss" transform="translate(1091.7 981.3) scale(0.96 1)" font-size="25.6" text-anchor="end" fill="#000" stroke="#000" stroke-width="0.45">1</text>
<path d="M1095.5 1067.5H1103.1" stroke="#000" stroke-width="2.6"/>
<text class="ss" transform="translate(1091.7 1076.3) scale(0.96 1)" font-size="25.6" text-anchor="end" fill="#000" stroke="#000" stroke-width="0.45">0</text>
<path d="M1135 1067.5V1076.1" stroke="#000" stroke-width="2.6"/>
<path d="M1200.5 1067.5V1076.1" stroke="#000" stroke-width="2.6"/>
<path d="M1265 1067.5V1076.1" stroke="#000" stroke-width="2.6"/>
<path d="M1330.5 1067.5V1076.1" stroke="#000" stroke-width="2.6"/>
<text class="ss" transform="translate(1143.7 1097.4) rotate(-45) scale(0.96 1)" font-size="25.6" text-anchor="end" fill="#000" stroke="#000" stroke-width="0.45">C</text>
<text class="ss" transform="translate(1209.2 1097.4) rotate(-45) scale(0.96 1)" font-size="25.6" text-anchor="end" fill="#000" stroke="#000" stroke-width="0.45">Eth</text>
<text class="ss" transform="translate(1273.7 1097.4) rotate(-45) scale(0.96 1)" font-size="25.6" text-anchor="end" fill="#000" stroke="#000" stroke-width="0.45">Eth+F</text>
<text class="ss" transform="translate(1339.2 1097.4) rotate(-45) scale(0.96 1)" font-size="25.6" text-anchor="end" fill="#000" stroke="#000" stroke-width="0.45">F</text>
<text class="ss" transform="translate(1201 773.4) scale(0.94 1)" font-size="21.4" text-anchor="middle" fill="#ff0000" stroke="#ff0000" stroke-width="0.3">###</text>
<text class="ss" transform="translate(1251.85 854.3) scale(1.1 1)" font-size="26.8" text-anchor="middle" fill="#0000ff" stroke="#0000ff" stroke-width="0.4">*</text>
<text class="ss" transform="translate(1265.6 854.3) scale(1.1 1)" font-size="26.8" text-anchor="middle" fill="#0000ff" stroke="#0000ff" stroke-width="0.4">*</text>
<text class="ss" transform="translate(1279.35 854.3) scale(1.1 1)" font-size="26.8" text-anchor="middle" fill="#0000ff" stroke="#0000ff" stroke-width="0.4">*</text>
<text class="ss" transform="translate(1164.96 648.1) scale(1.07 1)" font-size="27.33" text-anchor="start" fill="#000" stroke="#000" stroke-width="0.45">BAX/Bcl-2</text>
<text class="ss" transform="translate(1036.95 874.1) rotate(-90) scale(0.95 1)" font-size="30.4" text-anchor="middle" fill="#000" stroke="#000" stroke-width="0.45">Relative Density (A.U)</text>
<text class="ss" transform="translate(992.69 657.34) scale(1.07 1)" font-size="50.19" text-anchor="start" fill="#000" stroke="#000" stroke-width="0.45">(f)</text>
</svg></body></html>
